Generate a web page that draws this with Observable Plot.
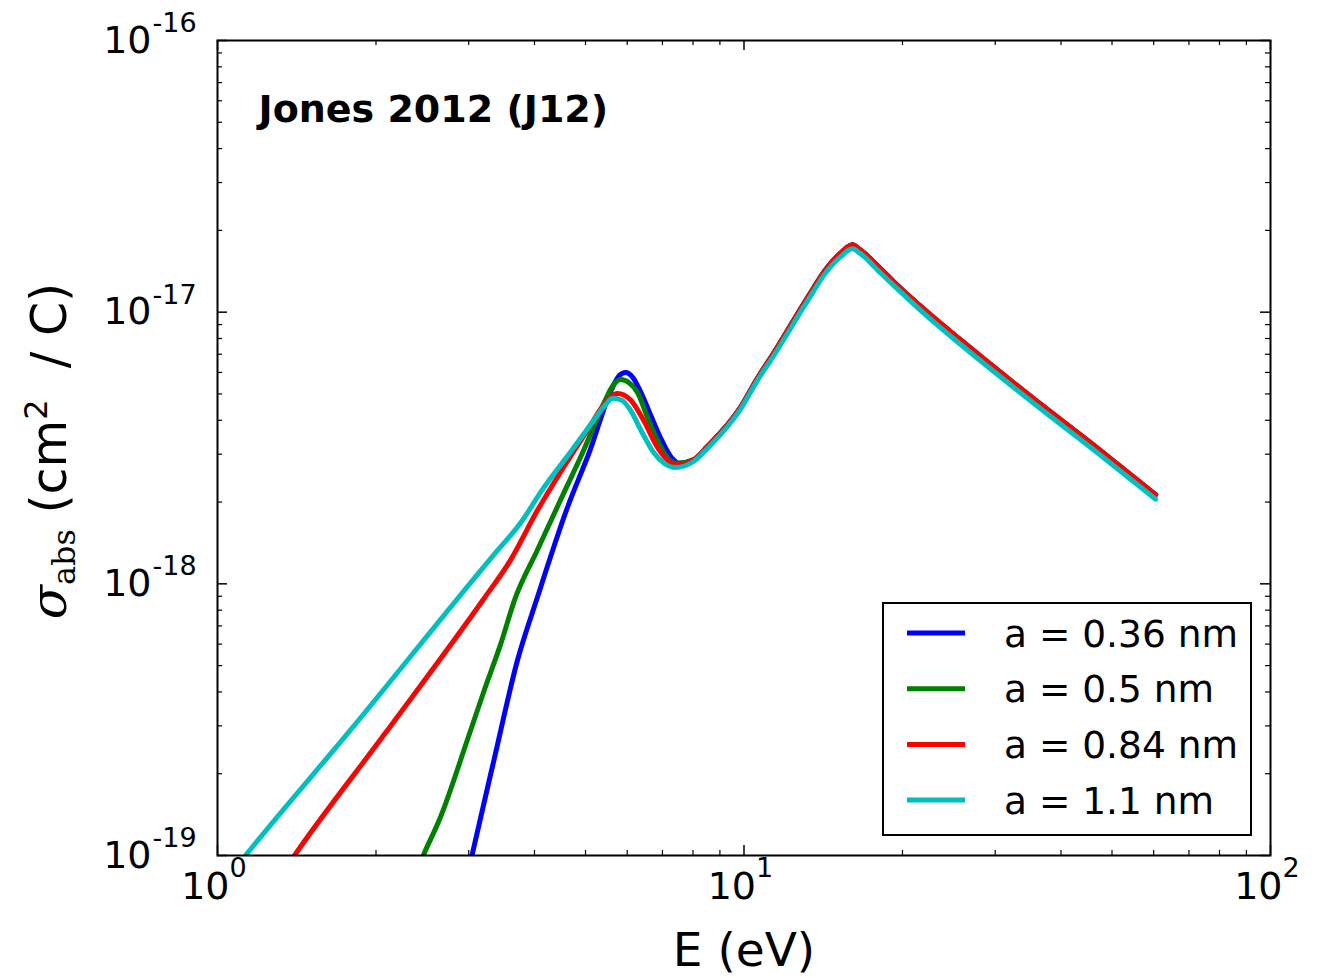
<!DOCTYPE html>
<html><head><meta charset="utf-8">
<script src="https://cdn.jsdelivr.net/npm/d3@7"></script>
<script src="https://cdn.jsdelivr.net/npm/@observablehq/plot@0.6"></script>
<style>body{margin:0;background:#fff;} #chart svg{display:block;}</style>
</head><body><div id="chart"></div>
<script>
// ---- data (E in eV, sigma in cm^2 / C) ----
const seriesNames = ["a = 0.36 nm", "a = 0.5 nm", "a = 0.84 nm", "a = 1.1 nm"];
const seriesColors = ["#0000ff", "#008000", "#ff0000", "#00bfbf"];

const energyBlue = [2.95, 3.05, 3.36, 3.71, 4.05, 4.62, 5.10, 5.58, 5.80, 5.96, 6.15, 6.36, 6.64, 6.94, 7.25, 7.55, 8.02];
const sigmaBlue  = [7.6e-20, 1.02e-19, 2.30e-19, 5.2e-19, 8.9e-19, 1.91e-18, 3.1e-18, 5.1e-18, 5.85e-18, 6.0e-18, 5.75e-18, 5.1e-18, 4.2e-18, 3.45e-18, 2.95e-18, 2.78e-18, 2.86e-18];

const energyGreen = [2.30, 2.47, 2.65, 2.98, 3.21, 3.45, 3.68, 4.05, 4.48, 4.96, 5.41, 5.65, 5.83, 6.05, 6.28, 6.56, 6.85, 7.25, 7.48, 8.02];
const sigmaGreen  = [7.4e-20, 1.02e-19, 1.38e-19, 2.65e-19, 4.05e-19, 6.0e-19, 8.9e-19, 1.33e-18, 2.03e-18, 3.1e-18, 4.6e-18, 5.4e-18, 5.65e-18, 5.5e-18, 5.05e-18, 4.09e-18, 3.37e-18, 2.84e-18, 2.78e-18, 2.86e-18];

const energyRed = [1.30, 1.41, 2.08, 3.19, 3.60, 4.05, 4.54, 5.04, 5.41, 5.75, 6.09, 6.45, 6.85, 7.25, 7.48, 8.02];
const sigmaRed  = [8.1e-20, 1.02e-19, 2.81e-19, 8.7e-19, 1.22e-18, 1.86e-18, 2.68e-18, 3.67e-18, 4.55e-18, 5.02e-18, 4.75e-18, 3.99e-18, 3.18e-18, 2.80e-18, 2.75e-18, 2.86e-18];

const energyCyan = [1.00, 1.14, 1.79, 3.36, 3.76, 4.16, 4.68, 5.18, 5.45, 5.63, 5.85, 6.09, 6.36, 6.73, 7.05, 7.41, 8.02];
const sigmaCyan  = [7.4e-20, 1.02e-19, 2.9e-19, 1.29e-18, 1.67e-18, 2.25e-18, 3.05e-18, 3.99e-18, 4.55e-18, 4.82e-18, 4.75e-18, 4.35e-18, 3.7e-18, 3.05e-18, 2.78e-18, 2.68e-18, 2.82e-18];

// common high-energy part (above the dip)
const energyTail    = [8.52, 9.85, 10.6, 11.38, 13.2, 14.39, 15.26, 16.07, 16.6, 18.2, 19.2, 22.3, 25.8, 35.5, 47.5, 60.5];
const sigmaTail     = [3.20e-18, 4.46e-18, 5.7e-18, 7.05e-18, 1.13e-17, 1.46e-17, 1.65e-17, 1.77e-17, 1.70e-17, 1.44e-17, 1.30e-17, 1.00e-17, 7.9e-18, 4.8e-18, 3.1e-18, 2.13e-18];
const sigmaTailCyan = [3.15e-18, 4.40e-18, 5.6e-18, 6.9e-18, 1.10e-17, 1.42e-17, 1.60e-17, 1.71e-17, 1.65e-17, 1.39e-17, 1.26e-17, 9.65e-18, 7.6e-18, 4.62e-18, 2.98e-18, 2.05e-18];

const xMajor = [1, 10, 100];
const xTickExponents = ["0", "1", "2"];
const xMinor = [2, 3, 4, 5, 6, 7, 8, 9, 20, 30, 40, 50, 60, 70, 80, 90];
const yMajor = [1e-19, 1e-18, 1e-17, 1e-16];
const yTickExponents = ["-19", "-18", "-17", "-16"];
const yMinor = [2e-19, 3e-19, 4e-19, 5e-19, 6e-19, 7e-19, 8e-19, 9e-19,
                2e-18, 3e-18, 4e-18, 5e-18, 6e-18, 7e-18, 8e-18, 9e-18,
                2e-17, 3e-17, 4e-17, 5e-17, 6e-17, 7e-17, 8e-17, 9e-17];
const titleText = ["Jones 2012 (J12)"];
const xLabel = ["E (eV)"];

// ---- build table ----
const seriesE = [energyBlue.concat(energyTail), energyGreen.concat(energyTail), energyRed.concat(energyTail), energyCyan.concat(energyTail)];
const seriesS = [sigmaBlue.concat(sigmaTail), sigmaGreen.concat(sigmaTail), sigmaRed.concat(sigmaTail), sigmaCyan.concat(sigmaTailCyan)];
const rows = [];
seriesNames.forEach((name, k) => seriesE[k].forEach((e, i) => rows.push({series: name, E: e, sigma: seriesS[k][i]})));

// ---- layout ----
const W = 1320, H = 978, mL = 217, mR = 50, mT = 40, mB = 123;
const pw = W - mL - mR, ph = H - mT - mB;
const FONT = "DejaVu Sans";
const majorLen = 10, minorLen = 5;

const svg = Plot.plot({
  width: W, height: H,
  marginLeft: mL, marginRight: mR, marginTop: mT, marginBottom: mB,
  style: {fontFamily: FONT, background: "white", overflow: "visible"},
  x: {type: "log", domain: [1, 100], axis: null},
  y: {type: "log", domain: [1e-19, 1e-16], axis: null},
  color: {domain: seriesNames, range: seriesColors},
  marks: [
    Plot.line(rows, {x: "E", y: "sigma", z: "series", stroke: "series", strokeWidth: 5, curve: "monotone-x", clip: true}),
    // inward ticks on all four sides
    Plot.tickX(xMajor, {x: d => d, insetTop: ph - majorLen, stroke: "black", strokeWidth: 1.5}),
    Plot.tickX(xMajor, {x: d => d, insetBottom: ph - majorLen, stroke: "black", strokeWidth: 1.5}),
    Plot.tickX(xMinor, {x: d => d, insetTop: ph - minorLen, stroke: "black", strokeWidth: 1.2}),
    Plot.tickX(xMinor, {x: d => d, insetBottom: ph - minorLen, stroke: "black", strokeWidth: 1.2}),
    Plot.tickY(yMajor, {y: d => d, insetRight: pw - majorLen, stroke: "black", strokeWidth: 1.5}),
    Plot.tickY(yMajor, {y: d => d, insetLeft: pw - majorLen, stroke: "black", strokeWidth: 1.5}),
    Plot.tickY(yMinor, {y: d => d, insetRight: pw - minorLen, stroke: "black", strokeWidth: 1.2}),
    Plot.tickY(yMinor, {y: d => d, insetLeft: pw - minorLen, stroke: "black", strokeWidth: 1.2}),
    Plot.frame({stroke: "black", strokeWidth: 2}),
    // tick labels 10^n
    Plot.text(xMajor, {x: d => d, frameAnchor: "bottom", lineAnchor: "middle", text: () => "10", textAnchor: "end", dx: 12, dy: 31, fontSize: 38, fill: "black"}),
    Plot.text(xMajor, {x: d => d, frameAnchor: "bottom", lineAnchor: "middle", text: (d, i) => xTickExponents[i], textAnchor: "start", dx: 12, dy: 13, fontSize: 27, fill: "black"}),
    Plot.text(yMajor, {y: d => d, frameAnchor: "left", lineAnchor: "middle", text: () => "10", textAnchor: "end", dx: -66, dy: 0, fontSize: 38, fill: "black"}),
    Plot.text(yMajor, {y: d => d, frameAnchor: "left", lineAnchor: "middle", text: (d, i) => yTickExponents[i], textAnchor: "start", dx: -65, dy: -17, fontSize: 27, fill: "black"}),
    // in-plot title
    Plot.text(titleText, {frameAnchor: "top-left", lineAnchor: "middle", text: d => d, textAnchor: "start", dx: 41, dy: 69, fontSize: 38, fontWeight: "bold", fill: "black"}),
    // x axis label
    Plot.text(xLabel, {frameAnchor: "bottom", lineAnchor: "middle", text: d => d, dy: 95, fontSize: 47, fill: "black"})
  ]
});

const s = d3.select(svg);
// y axis label with math sub/superscripts
const yl = s.append("text")
  .attr("transform", "translate(66,451) rotate(-90)")
  .attr("text-anchor", "middle")
  .attr("fill", "black")
  .style("font-family", FONT)
  .style("font-size", "49px");
yl.append("tspan").style("font-family", "DejaVu Serif").style("font-style", "italic").style("font-size", "50px").text("σ");
yl.append("tspan").style("font-family", "DejaVu Serif").style("font-size", "32px").attr("dy", 9).text("abs");
yl.append("tspan").attr("dy", -9).text("\u00a0(cm");
yl.append("tspan").style("font-size", "32px").attr("dy", -19).text("2");
yl.append("tspan").attr("dy", 19).text("\u00a0\u00a0/ C)");

// legend box
const lg = s.append("g").attr("text-anchor", "start");
lg.append("rect").attr("x", 883).attr("y", 603).attr("width", 368).attr("height", 232)
  .attr("fill", "white").attr("stroke", "black").attr("stroke-width", 2);
seriesNames.forEach((name, i) => {
  const cy = 633 + i * 55.7;
  lg.append("line").attr("x1", 907).attr("x2", 965).attr("y1", cy).attr("y2", cy)
    .attr("stroke", seriesColors[i]).attr("stroke-width", 5);
  lg.append("text").attr("x", 1004).attr("y", cy + 13.5).attr("fill", "black").attr("text-anchor", "start")
    .style("font-family", FONT).style("font-size", "37.5px").text(name);
});

document.getElementById("chart").appendChild(svg);
</script>
</body></html>
